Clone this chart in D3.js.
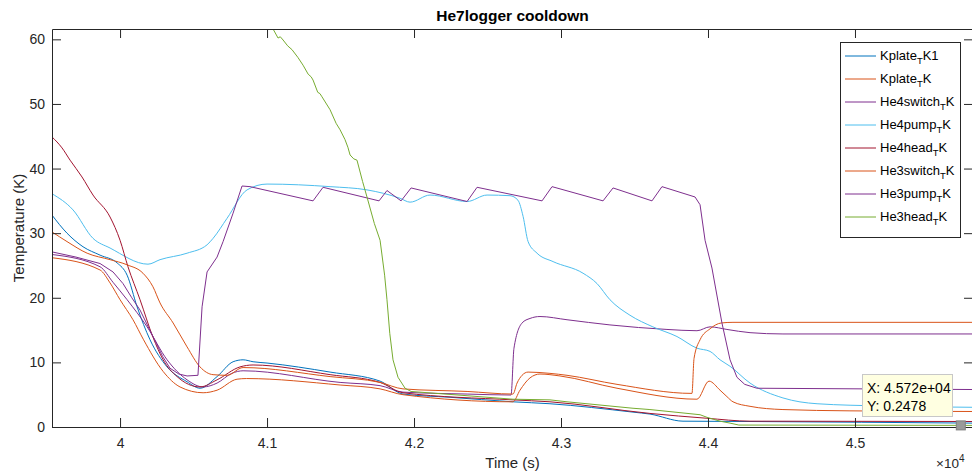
<!DOCTYPE html>
<html>
<head>
<meta charset="utf-8">
<script src="https://cdn.jsdelivr.net/npm/d3@7"></script>
<style>
  body { margin: 0; background: #fff; }
  svg { display: block; font-family: "Liberation Sans", Arial, Helvetica, sans-serif; }
</style>
</head>
<body>
<script>
// time in s, temperature in K
const kplateTK1 = [[39537,32.8],[39639,30.0],[39748,27.9],[39864,26.6],[39980,25.4],[40048,23.5],[40116,18.6],[40204,13.5],[40320,9.3],[40456,7.0],[40544,6.0],[40660,7.8],[40769,10.1],[40837,10.4],[40905,10.1],[41000,9.9],[41429,8.5],[41769,7.1],[41925,5.1],[42245,4.6],[42673,3.9],[42925,3.6],[43490,2.3],[43605,2.0],[43830,0.9],[44286,0.85],[45800,0.6]]
const kplateTK = [[39537,26.2],[39864,24.3],[39932,22.3],[40000,19.7],[40088,16.6],[40160,13.5],[40293,8.6],[40408,6.2],[40565,5.3],[40660,5.7],[40796,7.4],[40860,7.5],[41497,6.5],[41769,5.9],[41925,5.0],[42673,3.9],[42721,5.7],[42789,7.6],[42857,8.2],[42993,7.9],[43381,6.0],[43925,4.3],[44007,7.1],[44082,5.7],[44129,4.7],[44170,3.9],[44286,3.2],[44510,2.7],[44966,2.5],[45800,2.4]]
const he4switchTK = [[39537,26.7],[39864,24.8],[39952,22.4],[40048,19.7],[40184,15.5],[40320,10.4],[40456,7.3],[40565,6.2],[40660,6.8],[40760,8.3],[40837,8.7],[41497,6.9],[41769,6.4],[41925,5.4],[42361,5.1],[42660,4.95],[42680,12.2],[42735,16.1],[42789,16.8],[42857,17.1],[43041,16.6],[43333,15.8],[43721,15.1],[43925,14.9],[44014,15.5],[44129,15.1],[44286,14.6],[44510,14.4],[45800,14.4]]
const he4pumpTK = [[39537,36.1],[39680,33.6],[39816,29.2],[39932,27.7],[40190,25.2],[40272,25.9],[40456,26.9],[40592,28.2],[40633,29.2],[40728,32.3],[40864,36.7],[41000,37.6],[41429,37.2],[41680,36.7],[41905,35.4],[41973,34.8],[42109,35.9],[42361,34.9],[42497,35.9],[42653,35.8],[42707,35.1],[42742,32.6],[42776,28.7],[42837,26.9],[42946,25.6],[43150,23.8],[43245,22.2],[43333,19.7],[43469,17.3],[43625,15.5],[43789,14.0],[43925,12.2],[44014,11.7],[44082,10.4],[44150,9.4],[44286,6.8],[44510,4.5],[44742,3.6],[45191,3.25],[45800,3.05]]
const he4headTK = [[39537,44.9],[39605,43.2],[39660,41.3],[39741,38.7],[39816,35.9],[39932,32.5],[40000,28.9],[40054,24.8],[40136,19.7],[40224,13.9],[40293,10.4],[40388,7.8],[40544,6.2],[40660,7.3],[40816,9.3],[40905,9.6],[41429,8.1],[41769,6.9],[41925,5.3],[42673,4.2],[42925,3.9],[43605,2.1],[43993,1.35],[44286,0.9],[45800,0.85]]
const he3switchTK = [[39537,30.2],[39639,28.7],[39776,26.9],[39932,25.9],[40048,25.1],[40156,23.8],[40224,21.7],[40272,19.2],[40361,16.1],[40456,12.4],[40544,9.3],[40633,8.1],[40728,8.0],[40837,9.2],[41429,7.8],[41769,6.9],[41925,5.9],[42361,5.5],[42673,5.1],[42701,6.8],[42735,8.0],[42776,8.5],[42925,8.3],[43041,8.0],[43381,6.6],[43891,5.2],[43905,10.6],[43946,13.5],[44014,15.2],[44090,16.1],[44170,16.2],[45800,16.2]]
const he3pumpTK = [[39537,27.1],[39700,26.3],[39864,25.3],[39952,24.0],[40020,22.2],[40080,20.0],[40136,18.1],[40224,14.0],[40290,10.9],[40340,9.1],[40400,8.2],[40456,7.9],[40530,8.0],[40558,18.6],[40592,24.0],[40660,26.3],[40701,28.7],[40769,33.1],[40830,37.3],[40884,37.2],[41313,35.0],[41381,37.1],[41762,35.0],[41816,36.6],[41912,35.0],[41980,37.0],[42361,34.9],[42429,37.1],[42871,35.0],[42939,37.2],[43286,35.0],[43354,37.0],[43619,35.0],[43687,37.2],[43912,35.6],[43946,34.4],[43980,28.9],[44027,24.6],[44095,16.1],[44150,10.4],[44197,7.7],[44250,6.6],[44333,6.0],[45800,5.8]]
const he3headTK = [[40990,64.0],[41041,61.6],[41075,60.2],[41090,60.4],[41109,59.9],[41140,59.0],[41170,58.4],[41210,57.2],[41245,56.0],[41280,54.6],[41300,54.2],[41313,53.7],[41345,51.8],[41360,51.6],[41374,51.1],[41429,49.1],[41470,47.0],[41497,46.0],[41530,44.5],[41550,43.3],[41565,42.1],[41590,41.5],[41612,41.3],[41650,38.0],[41680,35.6],[41730,31.5],[41769,28.9],[41800,23.5],[41816,19.7],[41835,14.5],[41857,10.4],[41891,7.7],[41939,6.0],[41980,5.5],[42673,4.3],[42925,4.2],[43041,3.9],[43490,2.9],[43605,2.7],[43946,1.9],[43993,1.5],[44082,0.9],[44150,0.6],[44210,0.3],[45800,0.25]]

const seriesNames = [["Kplate", "K1"], ["Kplate", "K"], ["He4switch", "K"], ["He4pump", "K"], ["He4head", "K"], ["He3switch", "K"], ["He3pump", "K"], ["He3head", "K"]]
const seriesData = [kplateTK1, kplateTK, he4switchTK, he4pumpTK, he4headTK, he3switchTK, he3pumpTK, he3headTK]
const seriesColors = ["#0072BD", "#D95319", "#7E2F8E", "#4DBEEE", "#A2142F", "#D95319", "#7E2F8E", "#77AC30"]
const jagged = [false, false, false, false, false, false, true, true]

const xTicks = [40000, 41000, 42000, 43000, 44000, 45000]
const yTicks = [0, 10, 20, 30, 40, 50, 60]
const xDomain = [39537, 45803]
const yDomain = [0, 61.6]
const tipX = 45720
const tipY = 0.2478

const width = 972
const height = 472
const margin = {left: 52, right: 973, top: 29, bottom: 427}
const ink = "#262626"

const svg = d3.select("body").append("svg")
    .attr("width", width)
    .attr("height", height)

const x = d3.scaleLinear().domain(xDomain).range([margin.left, margin.right])
const y = d3.scaleLinear().domain(yDomain).range([margin.bottom, margin.top])

svg.append("clipPath").attr("id", "plot")
    .append("rect")
    .attr("x", margin.left).attr("y", margin.top)
    .attr("width", margin.right - margin.left)
    .attr("height", margin.bottom - margin.top)

// lines
const lines = svg.append("g").attr("clip-path", "url(#plot)")
seriesData.forEach((d, i) => {
    const line = d3.line()
        .x(p => x(p[0]))
        .y(p => y(p[1]))
        .curve(jagged[i] ? d3.curveLinear : d3.curveMonotoneX)
    lines.append("path")
        .attr("d", line(d))
        .attr("fill", "none")
        .attr("stroke", seriesColors[i])
        .attr("stroke-width", 1)
})

// axes
function styleAxis(g) {
    g.selectAll("path").attr("stroke", ink)
    g.selectAll("line").attr("stroke", ink)
    g.selectAll("text").attr("fill", ink).attr("font-size", 14).attr("font-family", null)
}

svg.append("g")
    .attr("transform", `translate(0,${margin.bottom})`)
    .call(d3.axisBottom(x).tickValues(xTicks).tickSize(-9).tickSizeOuter(0).tickPadding(11)
        .tickFormat(d => d3.format("")(+(d / 1e4).toFixed(1))))
    .call(styleAxis)

svg.append("g")
    .attr("transform", `translate(0,${margin.top})`)
    .call(d3.axisTop(x).tickValues(xTicks).tickSize(-9).tickSizeOuter(0).tickFormat(""))
    .call(styleAxis)

svg.append("g")
    .attr("transform", `translate(${margin.left},0)`)
    .call(d3.axisLeft(y).tickValues(yTicks).tickSize(-9).tickSizeOuter(0).tickPadding(7))
    .call(styleAxis)

svg.append("g")
    .attr("transform", `translate(${margin.right},0)`)
    .call(d3.axisRight(y).tickValues(yTicks).tickSize(-9).tickSizeOuter(0).tickFormat(""))
    .call(styleAxis)

// labels
svg.append("text")
    .attr("x", (margin.left + margin.right) / 2).attr("y", 21)
    .attr("text-anchor", "middle")
    .attr("font-weight", "bold").attr("font-size", 15.5)
    .attr("fill", "#000")
    .text("He7logger cooldown")

svg.append("text")
    .attr("x", (margin.left + margin.right) / 2).attr("y", 468)
    .attr("text-anchor", "middle")
    .attr("font-size", 15).attr("fill", ink)
    .text("Time (s)")

svg.append("text")
    .attr("transform", `translate(24,${(margin.top + margin.bottom) / 2}) rotate(-90)`)
    .attr("text-anchor", "middle")
    .attr("font-size", 15).attr("fill", ink)
    .text("Temperature (K)")

const expo = svg.append("text")
    .attr("x", 936).attr("y", 468)
    .attr("font-size", 13.5).attr("fill", ink)
expo.append("tspan").text("×10")
expo.append("tspan").attr("dy", -6).attr("font-size", 10).text("4")

// legend
const legend = svg.append("g")
legend.append("rect")
    .attr("x", 840.5).attr("y", 42.5)
    .attr("width", 120).attr("height", 195)
    .attr("fill", "#fff").attr("stroke", ink)

seriesNames.forEach((n, i) => {
    const ly = 56 + i * 23
    legend.append("line")
        .attr("x1", 845).attr("x2", 876)
        .attr("y1", ly).attr("y2", ly)
        .attr("stroke", seriesColors[i])
    const t = legend.append("text")
        .attr("x", 880).attr("y", ly + 4)
        .attr("font-size", 13).attr("fill", "#000")
    t.append("tspan").text(n[0])
    t.append("tspan").attr("dy", 4).attr("font-size", 9.5).text("T")
    t.append("tspan").attr("dy", -4).text(n[1])
})

// data tip
const tip = svg.append("g")
tip.append("rect")
    .attr("x", 862.5).attr("y", 374.5)
    .attr("width", 90).attr("height", 42)
    .attr("fill", "#ffffe1").attr("stroke", "#c8c8c8")
tip.append("text")
    .attr("x", 867).attr("y", 393)
    .attr("font-size", 14).attr("fill", "#000")
    .text("X: " + d3.format(".3e")(tipX).replace("e+4", "e+04"))
tip.append("text")
    .attr("x", 867).attr("y", 411)
    .attr("font-size", 14).attr("fill", "#000")
    .text("Y: " + tipY)
tip.append("rect")
    .attr("x", x(tipX) - 4.5).attr("y", y(tipY) - 4.5)
    .attr("width", 9).attr("height", 9)
    .attr("fill", "#9a9a9a").attr("stroke", "#808080")
</script>
</body>
</html>
